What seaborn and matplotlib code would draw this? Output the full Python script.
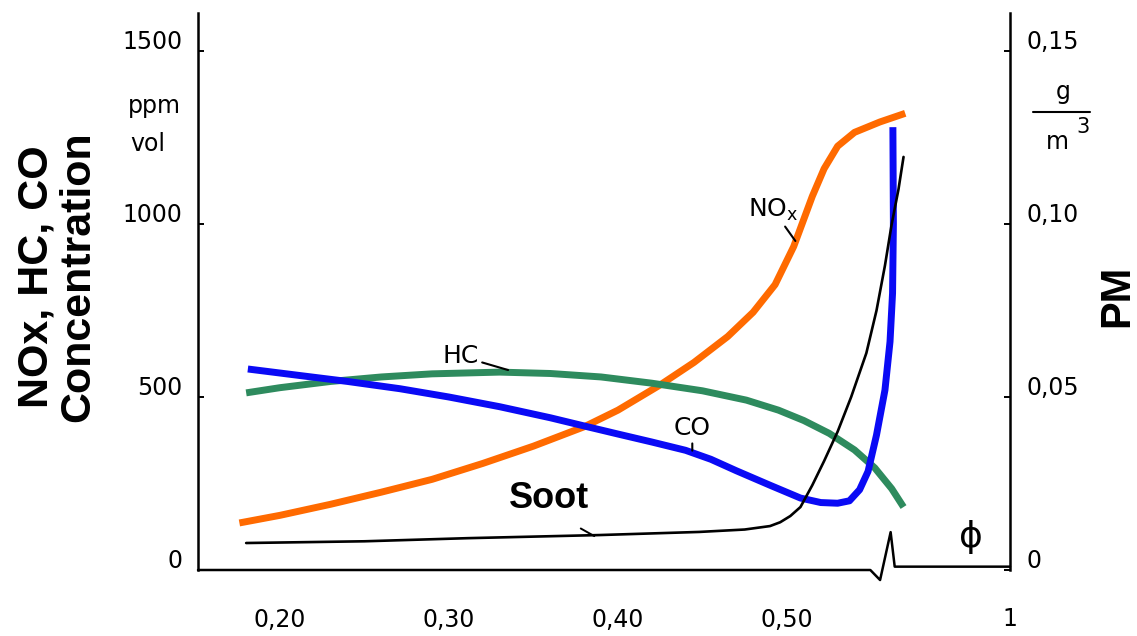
import matplotlib.pyplot as plt
import matplotlib.transforms as mtransforms
import seaborn as sns

# equivalence ratio phi and concentrations
phi_nox = [0.176, 0.200, 0.230, 0.260, 0.290, 0.320, 0.350, 0.380, 0.400, 0.425,
           0.445, 0.465, 0.480, 0.493, 0.504, 0.515, 0.522, 0.530, 0.540, 0.555, 0.570]
nox_ppm = [136, 158, 190, 225, 262, 308, 358, 414, 462, 535,
           600, 675, 745, 825, 935, 1080, 1160, 1225, 1265, 1295, 1320]

phi_co = [0.181, 0.212, 0.240, 0.271, 0.300, 0.330, 0.360, 0.382, 0.400, 0.420,
          0.440, 0.455, 0.470, 0.490, 0.508, 0.520, 0.530, 0.537, 0.543, 0.548,
          0.553, 0.558, 0.561, 0.5625, 0.563, 0.5627]
co_ppm = [581, 562, 545, 524, 500, 472, 440, 414, 393, 370,
          346, 320, 287, 245, 208, 195, 193, 200, 232, 285,
          390, 520, 660, 800, 1000, 1280]

phi_hc = [0.180, 0.200, 0.230, 0.260, 0.290, 0.330, 0.360, 0.390, 0.420, 0.450,
          0.476, 0.495, 0.510, 0.525, 0.540, 0.552, 0.562, 0.569]
hc_ppm = [512, 527, 545, 558, 567, 572, 568, 558, 540, 518,
          491, 462, 432, 395, 347, 295, 235, 182]

phi_soot = [0.180, 0.250, 0.311, 0.389, 0.448, 0.475, 0.490, 0.496, 0.502, 0.508,
            0.515, 0.522, 0.530, 0.538, 0.547, 0.553, 0.558, 0.562, 0.566, 0.569]
soot_pm = [0.0078, 0.0083, 0.0092, 0.0101, 0.0110, 0.0117, 0.0127, 0.0138, 0.0156,
           0.0182, 0.0245, 0.0315, 0.040, 0.050, 0.0627, 0.075, 0.088, 0.100,
           0.110, 0.1194]

x_ticks = [0.20, 0.30, 0.40, 0.50, 0.632]
x_labels = ["0,20", "0,30", "0,40", "0,50", "1"]
left_ticks = [0, 500, 1000, 1500]
left_labels = ["0", "500", "1000", "1500"]
right_ticks = [0, 0.05, 0.10, 0.15]
right_labels = ["0", "0,05", "0,10", "0,15"]

W, H = 1137, 636


def fx(px):
    return px / W


def fy(py):
    return 1 - py / H


sns.set_style("white")
plt.rcParams["font.family"] = ["DejaVu Sans"]
plt.rcParams["text.color"] = "black"

fig = plt.figure(figsize=(11.37, 6.36), dpi=100)
ax = fig.add_axes([fx(198), fy(570), (1010 - 198) / W, (570 - 13) / H])
ax2 = ax.twinx()

line_kw = dict(linewidth=5, sort=False, estimator=None, solid_capstyle="butt")
sns.lineplot(x=phi_nox, y=nox_ppm, ax=ax, color="#ff6a00", **line_kw)
sns.lineplot(x=phi_hc, y=hc_ppm, ax=ax, color="#2e8b5e", **line_kw)
sns.lineplot(x=phi_co, y=co_ppm, ax=ax, color="#0a0af5", **line_kw)
sns.lineplot(x=phi_soot, y=soot_pm, ax=ax2, color="black", linewidth=1.9,
             sort=False, estimator=None)

ax.set_xlim(0.1515, 0.632)
ax.set_ylim(0, 1610)
ax2.set_ylim(0, 0.161)
ax.set_xlabel("")
ax.set_ylabel("")
ax2.set_ylabel("")

for s in ["top", "right", "bottom"]:
    ax.spines[s].set_visible(False)
for s in ["top", "left", "bottom"]:
    ax2.spines[s].set_visible(False)
ax.spines["left"].set_linewidth(1.8)
ax2.spines["right"].set_linewidth(1.8)
ax.spines["left"].set_color("black")
ax2.spines["right"].set_color("black")

# broken phi axis
ax.plot([0, 0.828, 0.840, 0.853, 0.858, 1.0], [0, 0, -0.018, 0.068, 0.006, 0.006],
        transform=ax.transAxes, color="black", lw=1.8, clip_on=False)

ax.set_xticks(x_ticks, x_labels)
ax.set_xticks([0.25, 0.35, 0.45], minor=True)
ax.tick_params(axis="x", which="both", direction="in", length=4, width=1.4,
               pad=27, labelsize=17, colors="black")
ax.set_yticks(left_ticks, left_labels)
ax.tick_params(axis="y", direction="in", length=4, width=1.4, pad=11,
               labelsize=17, colors="black")
ax2.set_yticks(right_ticks, right_labels)
ax2.tick_params(axis="y", direction="in", length=4, width=1.4, pad=12,
                labelsize=17, colors="black")

up = mtransforms.ScaledTranslation(0, 8 / 72, fig.dpi_scale_trans)
for lab in ax.get_yticklabels() + ax2.get_yticklabels():
    lab.set_transform(lab.get_transform() + up)

# curve labels
lab_kw = dict(ha="center", va="center", fontsize=18,
              arrowprops=dict(arrowstyle="-", lw=1.5, color="black", shrinkA=0, shrinkB=0))
ax.annotate("HC", xy=(0.335, 578), xytext=(0.307, 618), **lab_kw)
ax.annotate("CO", xy=(0.444, 345), xytext=(0.444, 410), **lab_kw)
ax.annotate(r"NO$_\mathregular{x}$", xy=(0.505, 951), xytext=(0.492, 1040), **lab_kw)
ax.text(0.359, 208, "Soot", ha="center", va="center", fontsize=26,
        fontweight="bold", family="Liberation Sans")
ax.annotate("", xy=(0.386, 98), xytext=(0.378, 120),
            arrowprops=dict(arrowstyle="-", lw=1.4, color="black", shrinkA=0, shrinkB=0))
ax.text(0.609, 95, "\u03d5", ha="center", va="center", fontsize=26)

# unit labels
fig.text(fx(128), fy(106), "ppm", ha="left", va="center", fontsize=17)
fig.text(fx(130), fy(144), "vol", ha="left", va="center", fontsize=17)
fig.text(fx(1063), fy(92), "g", ha="center", va="center", fontsize=17)
fig.add_artist(plt.Line2D([fx(1033), fx(1090)], [fy(112), fy(112)], color="black", lw=1.5))
fig.text(fx(1057), fy(142), "m", ha="center", va="center", fontsize=17)
fig.text(fx(1083), fy(127), "3", ha="center", va="center", fontsize=15)

# axis titles
fig.text(fx(57), fy(277), "NOx, HC, CO\nConcentration", rotation=90, ha="center",
         va="center", multialignment="center", fontsize=31, fontweight="bold",
         family="Liberation Sans", linespacing=1.05)
fig.text(fx(1117), fy(296), "PM", rotation=90, ha="center", va="center",
         fontsize=30, fontweight="bold", family="Liberation Sans")

fig.savefig("out.png", dpi=100)
